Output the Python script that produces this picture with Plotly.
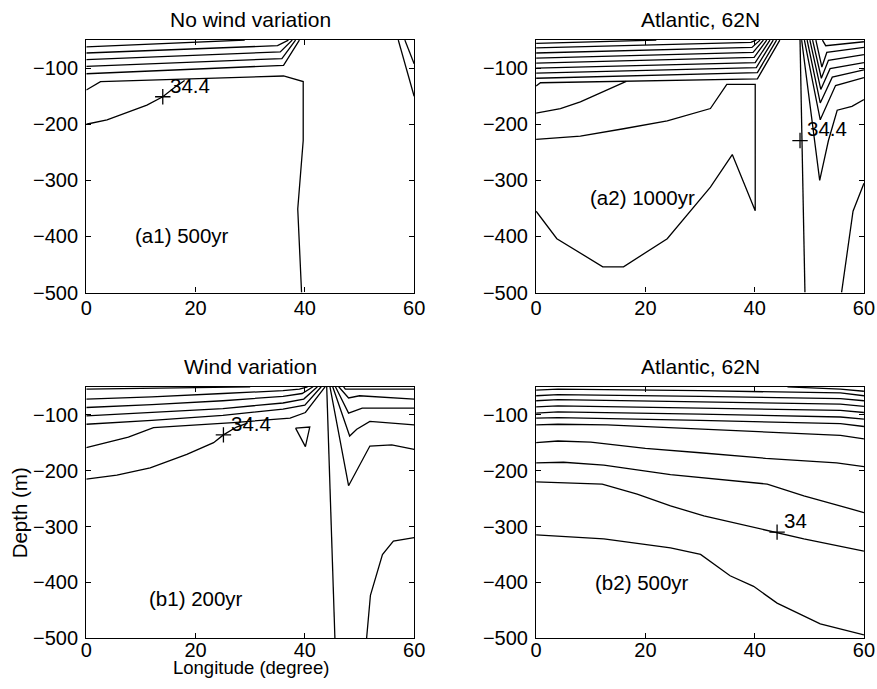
import plotly.graph_objects as go

# ---------------- data (longitude in degrees, depth in m) ----------------
x_ticks = [0, 20, 40, 60]
y_ticks = [-500, -400, -300, -200, -100]
titles = ["No wind variation", "Atlantic, 62N", "Wind variation", "Atlantic, 62N"]
panel_labels = ["(a1) 500yr", "(a2) 1000yr", "(b1) 200yr", "(b2) 500yr"]

# Panel a1: contour polylines
a1_x = [
    [0, 29],
    [0, 35, 37],
    [0, 35.5, 37.7],
    [0, 35.8, 38.3],
    [0, 36.1, 39],
    [0, 2.6, 36.1, 39.7, 39.7, 38.7, 39.4],
    [0, 3.8, 11.1, 14, 16.5, 18],
    [57.1, 59, 60],
    [58.3, 60],
]
a1_y = [
    [-62, -50],
    [-73, -60, -50],
    [-85, -71, -50],
    [-97, -83, -50],
    [-110, -95, -50],
    [-139, -124, -114, -124, -229, -351, -500],
    [-200, -192, -166, -151, -132, -122],
    [-50, -115, -150],
    [-50, -92],
]

# Panel a2
a2_x = [
    [0, 22],
    [0, 39.3, 40.3],
    [0, 39.5, 41],
    [0, 39.7, 41.6],
    [0, 39.9, 42.2],
    [0, 40.1, 42.8],
    [0, 40.3, 43.4],
    [0, 40.5, 44],
    [0, 0.8, 40.5, 44.6],
    [0, 4.45, 8.1, 15.1, 16.5],
    [0, 8.1, 16, 24, 31.9, 34.9, 40.1, 40.1, 35.9, 31.9, 24, 16, 12.2, 3.8, 0],
    [48.3, 49.2],
    [48.6, 51.9, 53.5, 55.1, 57.8, 60],
    [49.1, 52, 54.8, 60],
    [49.6, 52, 54.2, 60],
    [50.1, 52.1, 53.8, 60],
    [50.6, 52.2, 53.5, 60],
    [51.2, 52.3, 53.2, 60],
    [52.4, 53, 60],
    [60, 58, 55.9],
]
a2_y = [
    [-56, -50],
    [-64, -54, -50],
    [-73, -63, -50],
    [-82, -72, -50],
    [-91, -81, -50],
    [-100, -90, -50],
    [-109, -99, -50],
    [-118, -108, -50],
    [-132, -126, -119, -50],
    [-180, -172, -160, -129, -123.5],
    [-227, -221, -208, -194, -172, -129, -129, -354, -254, -312, -404, -454, -454, -404, -355],
    [-50, -500],
    [-50, -300, -229, -175, -168, -156],
    [-50, -192, -131, -117],
    [-50, -162, -116, -103],
    [-50, -138, -101, -90],
    [-50, -118, -86, -76],
    [-50, -98, -72, -63],
    [-50, -60, -53],
    [-305, -355, -500],
]

# Panel b1
b1_x = [
    [0, 15, 30],
    [0, 12, 25, 36, 39, 40.5],
    [0, 12, 25, 36, 39.5, 41.5],
    [0, 12, 25, 36, 39.8, 42.3],
    [0, 12, 25, 36, 40, 43],
    [0, 5, 7.7, 12.3, 26.9, 37.3, 40.1, 43.7],
    [0, 5.6, 11.7, 18.4, 23.3, 25.1, 27.5, 29.5],
    [38.3, 40.9, 40.1, 38.3],
    [44.0, 45.5],
    [47.1, 47.4, 60],
    [46.2, 48, 50, 60],
    [45.6, 48, 50.5, 60],
    [45.1, 48.2, 49.5, 51.9, 60],
    [44.6, 48, 51.9, 55.9, 60],
    [60, 56.2, 54.2, 52, 51.3],
]
b1_y = [
    [-54, -52, -50],
    [-72, -68, -62, -57, -54, -50],
    [-87, -82, -75, -67, -62, -50],
    [-102, -96, -89, -79, -72, -50],
    [-117, -110, -101, -90, -83, -50],
    [-159, -146, -140, -123, -114, -106, -96, -50],
    [-215, -208, -195, -171, -150, -136, -122, -115],
    [-124, -122, -157, -124],
    [-50, -500],
    [-50, -54, -54],
    [-50, -70, -66, -72],
    [-50, -97, -88, -88],
    [-50, -138, -126, -112, -118],
    [-50, -227, -156, -154, -162],
    [-320, -326, -350, -423, -500],
]

# Panel b2
b2_x = [
    [46, 55.7, 60],
    [0, 4, 30, 55.7, 60],
    [0, 4, 30, 55.7, 60],
    [0, 4, 30, 55.7, 60],
    [0, 4, 30, 55.7, 60],
    [0, 4, 30, 55.7, 60],
    [0, 4, 30, 55.7, 60],
    [0, 4, 13, 30, 45, 55.7, 60],
    [0, 4, 10, 20, 30, 42, 55, 60],
    [0, 5, 12.4, 24.6, 42.3, 49, 60],
    [0, 12.1, 18.5, 24.6, 30.7, 36.2, 44.1, 49, 60],
    [0, 6.3, 12.4, 24.6, 30.1, 35.5, 39.8, 44.1, 52, 60],
]
b2_y = [
    [-50, -54, -58],
    [-56, -54, -57, -61, -66],
    [-66, -64, -67, -71, -75],
    [-75, -73, -77, -81, -85],
    [-86, -84, -88, -92, -96],
    [-97, -95, -99, -104, -108],
    [-106, -105, -110, -116, -121],
    [-118, -117, -118, -126, -132, -137, -143],
    [-150, -147, -149, -160, -168, -178, -186, -193],
    [-186, -185, -190, -207, -224, -245, -275],
    [-220, -224, -242, -263, -281, -293, -310, -322, -344],
    [-315, -318, -322, -338, -350, -388, -407, -437, -474, -494],
]

# contour label positions (marker "+" and text)
label_mark_x = [14, 48.3, 25.1, 44.1]
label_mark_y = [-151, -229, -136, -310]
label_text = ["34.4", "34.4", "34.4", "34"]
label_text_x = [18.9, 53.2, 30.2, 47.5]
label_text_y = [-131, -207, -116, -289]
panel_label_x = [17.6, 19.4, 20.1, 19.4]
panel_label_y = [-398, -330, -428, -401]

x_title = "Longitude (degree)"
y_title = "Depth (m)"

# ---------------- figure ----------------
W, H = 877, 689
FONT = "Liberation Sans, Arial, Helvetica, sans-serif"

# the photographed page is slightly scaled; map target picture pixels to page pixels
def px_x(v):
    return (v - 5.7) / 0.981


def px_y(v):
    return v / 0.982


panels = [(a1_x, a1_y), (a2_x, a2_y), (b1_x, b1_y), (b2_x, b2_y)]
axis_names = [("x", "y"), ("x2", "y2"), ("x3", "y3"), ("x4", "y4")]

fig = go.Figure()
for (px_list, py_list), (xa, ya) in zip(panels, axis_names):
    for xs, ys in zip(px_list, py_list):
        fig.add_trace(go.Scatter(x=xs, y=ys, mode="lines",
                                 line=dict(color="black", width=1.3),
                                 xaxis=xa, yaxis=ya, hoverinfo="skip",
                                 showlegend=False))

for i, (xa, ya) in enumerate(axis_names):
    fig.add_trace(go.Scatter(x=[label_mark_x[i]], y=[label_mark_y[i]], mode="markers",
                             marker=dict(symbol="cross-thin", size=11,
                                         line=dict(color="black", width=1.3)),
                             xaxis=xa, yaxis=ya, hoverinfo="skip", showlegend=False))

# domains from target pixel positions
x_doms = [(px_x(86) / W, px_x(414) / W), (px_x(536) / W, px_x(864) / W)]
y_doms = [(1 - px_y(292) / H, 1 - px_y(40) / H), (1 - px_y(637) / H, 1 - px_y(386) / H)]

layout = dict(width=W, height=H, margin=dict(l=0, r=0, t=0, b=0),
              paper_bgcolor="white", plot_bgcolor="white",
              font=dict(family=FONT, color="black", size=20))

for i in range(4):
    col = i % 2
    row = i // 2
    xk = "xaxis" if i == 0 else f"xaxis{i + 1}"
    yk = "yaxis" if i == 0 else f"yaxis{i + 1}"
    xa, ya = axis_names[i]
    common = dict(showgrid=False, zeroline=False, showline=True, linecolor="black",
                  linewidth=1.3, mirror="ticks", ticks="inside", ticklen=5,
                  tickwidth=1, tickcolor="black",
                  tickfont=dict(family=FONT, size=20, color="black"))
    layout[xk] = dict(domain=list(x_doms[col]), anchor=ya, range=[0, 60],
                      tickvals=x_ticks, ticklabelstandoff=-3 if row == 0 else -6,
                      **common)
    layout[yk] = dict(domain=list(y_doms[row]), anchor=xa, range=[-500, -50],
                      tickvals=y_ticks, ticklabelstandoff=3, **common)

annotations = []
title_y = [1 - px_y(19.5) / H, 1 - px_y(19.5) / H, 1 - px_y(365.5) / H, 1 - px_y(365.5) / H]
for i in range(4):
    col = i % 2
    xa, ya = axis_names[i]
    annotations.append(dict(text=titles[i], xref="paper", yref="paper",
                            x=sum(x_doms[col]) / 2, y=title_y[i],
                            xanchor="center", yanchor="middle", showarrow=False,
                            font=dict(family=FONT, size=21, color="black")))
    annotations.append(dict(text=panel_labels[i], xref=xa, yref=ya,
                            x=panel_label_x[i], y=panel_label_y[i],
                            xanchor="center", yanchor="middle", showarrow=False,
                            font=dict(family=FONT, size=20.5, color="black")))
    annotations.append(dict(text=label_text[i], xref=xa, yref=ya,
                            x=label_text_x[i], y=label_text_y[i],
                            xanchor="center", yanchor="middle", showarrow=False,
                            font=dict(family=FONT, size=20.5, color="black")))

annotations.append(dict(text=y_title, xref="paper", yref="paper",
                        x=px_x(19.5) / W, y=1 - px_y(511.5) / H, textangle=-90,
                        xanchor="center", yanchor="middle", showarrow=False,
                        font=dict(family=FONT, size=20.5, color="black")))
annotations.append(dict(text=x_title, xref="paper", yref="paper",
                        x=px_x(250.5) / W, y=0, yshift=-2,
                        xanchor="center", yanchor="bottom", showarrow=False,
                        font=dict(family=FONT, size=18.5, color="black")))
layout["annotations"] = annotations

fig.update_layout(**layout)
fig.write_html("out.html")
